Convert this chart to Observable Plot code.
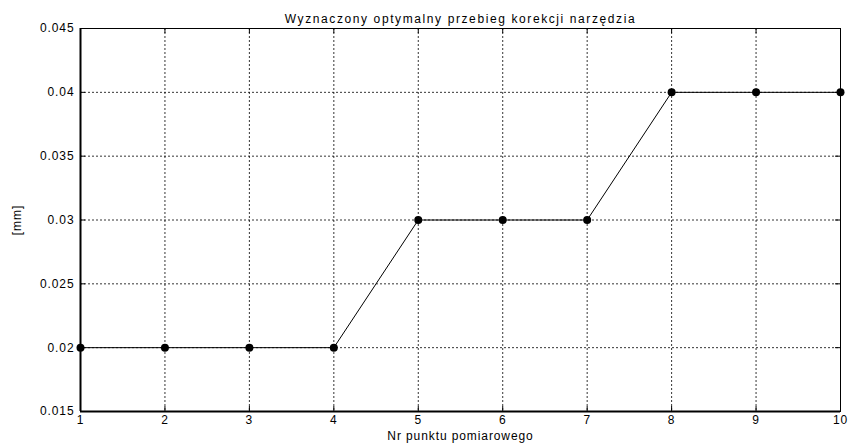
<!DOCTYPE html>
<html>
<head>
<meta charset="utf-8">
<script src="https://cdn.jsdelivr.net/npm/d3@7"></script>
<script src="https://cdn.jsdelivr.net/npm/@observablehq/plot@0.6"></script>
<style>
  html, body { margin: 0; padding: 0; background: #fff; }
  svg { display: block; }
</style>
</head>
<body>
<div id="chart"></div>
<script>
const title = "Wyznaczony optymalny przebieg korekcji narzędzia";
const xLabel = "Nr punktu pomiarowego";
const yLabel = "[mm]";
const points = [1, 2, 3, 4, 5, 6, 7, 8, 9, 10];
const correction = [0.02, 0.02, 0.02, 0.02, 0.03, 0.03, 0.03, 0.04, 0.04, 0.04];
const xTicks = [1, 2, 3, 4, 5, 6, 7, 8, 9, 10];
const yTicks = [0.015, 0.02, 0.025, 0.03, 0.035, 0.04, 0.045];
const yTickLabels = ["0.015", "0.02", "0.025", "0.03", "0.035", "0.04", "0.045"];

const data = points.map((p, i) => ({x: p, y: correction[i]}));

const W = 850, H = 443;
const mL = 80, mR = 10, mT = 28, mB = 32;
const innerW = W - mL - mR, innerH = H - mT - mB;
const tick = 5;

const chart = Plot.plot({
  width: W,
  height: H,
  marginLeft: mL,
  marginRight: mR,
  marginTop: mT,
  marginBottom: mB,
  style: {fontFamily: "Arial, 'Liberation Sans', sans-serif", fontSize: "12px", color: "#000", background: "#fff", letterSpacing: "0.9px"},
  x: {domain: [1, 10]},
  y: {domain: [0.015, 0.045]},
  marks: [
    Plot.gridX(xTicks, {stroke: "#000", strokeOpacity: 1, strokeDasharray: "2,2", strokeWidth: 0.8}),
    Plot.gridY(yTicks, {stroke: "#000", strokeOpacity: 1, strokeDasharray: "2,2", strokeWidth: 0.8}),
    Plot.frame({stroke: "#000", strokeWidth: 1}),
    Plot.ruleX([1], {stroke: "#000", strokeWidth: 2}),
    Plot.ruleY([0.015], {stroke: "#000", strokeWidth: 2}),
    // inward ticks
    Plot.tickY(yTicks, {y: d => d, stroke: "#000", insetRight: innerW - tick}),
    Plot.tickY(yTicks, {y: d => d, stroke: "#000", insetLeft: innerW - tick}),
    Plot.tickX(xTicks, {x: d => d, stroke: "#000", insetTop: innerH - tick}),
    Plot.tickX(xTicks, {x: d => d, stroke: "#000", insetBottom: innerH - tick}),
    Plot.axisX(xTicks, {tickSize: 0, tickPadding: 4, fontSize: 12, label: xLabel, labelAnchor: "center", labelOffset: 28, labelArrow: "none"}),
    Plot.axisY(yTicks, {tickSize: 0, tickPadding: 6, fontSize: 12, tickFormat: (d) => yTickLabels[yTicks.indexOf(d)], label: yLabel, labelAnchor: "center", labelOffset: 68, labelArrow: "none"}),
    Plot.line(data, {x: "x", y: "y", stroke: "#000", strokeWidth: 1}),
    Plot.dot(data, {x: "x", y: "y", r: 4, fill: "#000", stroke: "none"}),
    Plot.text([title], {text: d => d, frameAnchor: "top", dy: -14, fontSize: 12, fill: "#000"})
  ]
});
d3.select(chart).selectAll("g[aria-label='text'] text").attr("letter-spacing", "1.6px");
document.getElementById("chart").appendChild(chart);
</script>
</body>
</html>
